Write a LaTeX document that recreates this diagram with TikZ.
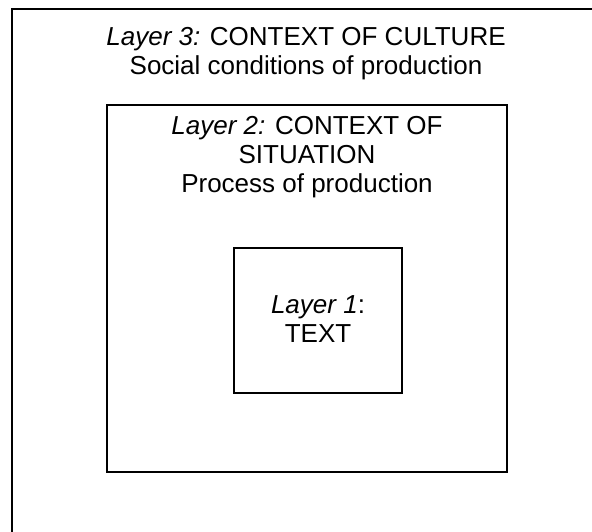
\documentclass[tikz,border=0pt]{standalone}
\usepackage{fontspec}
\setmainfont{Liberation Sans}

\begin{document}
\begin{tikzpicture} [
        x = 1pt, y = -1pt,
        frame/.style = {rectangle, draw, line width=1.5pt, inner sep=0pt},
        lbl/.style = {align=center, anchor=north, inner sep=0pt,% top of the caps
                     font=\fontsize{26}{29}\selectfont}
    ]
    \clip (0,0) rectangle (592,531);

    \node (Culture) [frame, anchor=north west,
                     minimum width=620pt, minimum height=560pt] at (11,8) {};
    \node (Situation) [frame, minimum width=400pt, minimum height=367pt] at (307,288.5) {};
    \node (Text) [frame, minimum width=168pt, minimum height=145pt] at (318,320.5) {};

    \node (CultureLbl) [lbl] at (306,27)
        {{\itshape Layer 3:} CONTEXT OF CULTURE\\Social conditions of production};
    \node (SituationLbl) [lbl] at (307,116.5)
        {{\itshape Layer 2:} CONTEXT OF\\SITUATION\\Process of production};
    \node (TextLbl) [lbl] at (318,295)
        {{\itshape Layer 1}:\\TEXT};

\end{tikzpicture}
\end{document}
